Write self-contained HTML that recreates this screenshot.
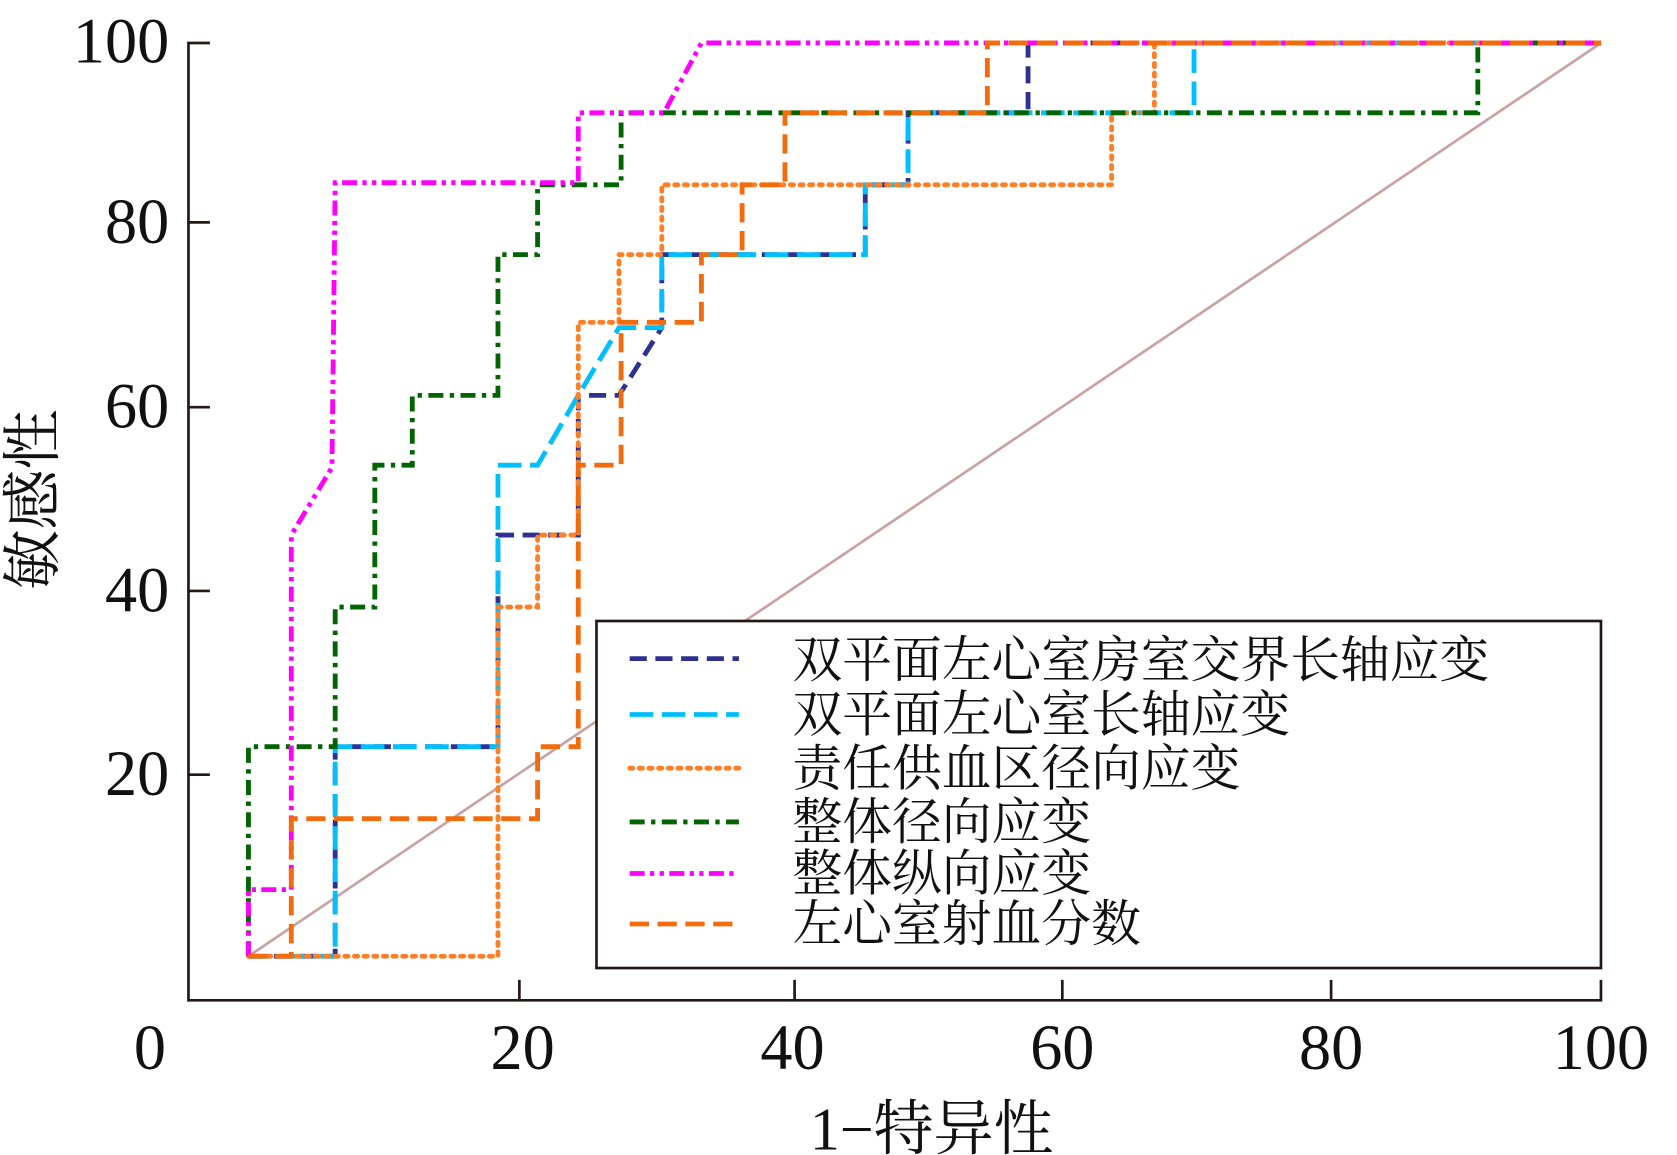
<!DOCTYPE html>
<html><head><meta charset="utf-8"><style>
html,body{margin:0;padding:0;background:#fff;}
svg{display:block;}
text{font-family:"Liberation Serif","Noto Serif CJK SC",serif;fill:#111;}
.num{font-family:"Liberation Serif",serif;}
</style></head><body>
<svg width="1677" height="1155" viewBox="0 0 1566 1075" preserveAspectRatio="none" xmlns="http://www.w3.org/2000/svg">
<g stroke="#231815" stroke-width="2.5" fill="none">
<polyline points="196,40 176,40 176,931 1495,931 1495,912"/>
<line x1="176" y1="207" x2="196" y2="207"/>
<line x1="176" y1="379" x2="196" y2="379"/>
<line x1="176" y1="550" x2="196" y2="550"/>
<line x1="176" y1="721" x2="196" y2="721"/>
<line x1="485" y1="931" x2="485" y2="912"/>
<line x1="742" y1="931" x2="742" y2="912"/>
<line x1="992" y1="931" x2="992" y2="912"/>
<line x1="1243" y1="931" x2="1243" y2="912"/>
</g>
<g font-size="60" text-anchor="end" class="num">
<text class="num" x="158" y="58">100</text>
<text class="num" x="158" y="226">80</text>
<text class="num" x="158" y="398">60</text>
<text class="num" x="158" y="569">40</text>
<text class="num" x="158" y="740">20</text>
</g>
<g font-size="60" text-anchor="middle">
<text class="num" x="140" y="995">0</text>
<text class="num" x="488" y="995">20</text>
<text class="num" x="740" y="995">40</text>
<text class="num" x="992" y="995">60</text>
<text class="num" x="1243" y="995">80</text>
<text class="num" x="1495" y="995">100</text>
</g>
<text x="870" y="1070" font-size="56" text-anchor="middle">1−特异性</text>
<text transform="translate(50,465) rotate(-90)" font-size="56" text-anchor="middle">敏感性</text>

<line x1="232" y1="890" x2="1495" y2="40" stroke="#c9a3a3" stroke-width="2.5"/>

<g fill="none" stroke-width="4.5">
<polyline stroke="#2e3192" stroke-dasharray="16,8" points="232,890 313,890 313,695 465,695 465,498 540,498 540,368 578,368 618,305 618,237 808,237 808,172 848,172 848,105 960,105 960,40 1495,40"/>
<polyline stroke="#00bfff" stroke-dasharray="22,8" points="232,890 313,890 313,695 465,695 465,433 502,433 540,368 578,305 618,305 618,237 808,237 808,172 848,172 848,105 1115,105 1115,40 1495,40"/>
<polyline stroke="#ff7f27" stroke-dasharray="3,6" stroke-linecap="round" points="232,890 465,890 465,565 502,565 502,498 540,498 540,300 578,300 578,237 618,237 618,172 1038,172 1038,105 1078,105 1078,40 1495,40"/>
<polyline stroke="#006400" stroke-dasharray="14,6,4,6" points="232,890 232,695 313,695 313,565 350,565 350,433 385,433 385,368 465,368 465,237 502,237 502,172 580,172 580,105 1380,105 1380,40 1495,40"/>
<polyline stroke="#ff00ff" stroke-dasharray="14,5,4,5,4,5" points="232,890 232,828 272,828 272,498 310,435 313,170 540,170 540,105 620,105 655,40 1495,40"/>
<polyline stroke="#f26c0d" stroke-dasharray="18,8" points="232,890 272,890 272,762 502,762 502,695 540,695 540,433 580,433 580,300 655,300 655,237 693,237 693,172 733,172 733,105 922,105 922,40 1495,40"/>
</g>

<rect x="557" y="578" width="938" height="323" fill="#fff" stroke="#231815" stroke-width="2.5"/>
<g stroke-width="4.5">
<line x1="588" y1="613" x2="690" y2="613" stroke="#2e3192" stroke-dasharray="16,8"/>
<line x1="588" y1="665" x2="690" y2="665" stroke="#00bfff" stroke-dasharray="22,8"/>
<line x1="588" y1="715" x2="690" y2="715" stroke="#ff7f27" stroke-dasharray="3,6" stroke-linecap="round"/>
<line x1="588" y1="765" x2="690" y2="765" stroke="#006400" stroke-dasharray="14,6,4,6"/>
<line x1="588" y1="813" x2="690" y2="813" stroke="#ff00ff" stroke-dasharray="14,5,4,5,4,5"/>
<line x1="588" y1="860" x2="690" y2="860" stroke="#f26c0d" stroke-dasharray="18,8"/>
</g>
<g font-size="46.5">
<text x="740" y="630">双平面左心室房室交界长轴应变</text>
<text x="740" y="681">双平面左心室长轴应变</text>
<text x="740" y="731">责任供血区径向应变</text>
<text x="740" y="781">整体径向应变</text>
<text x="740" y="829">整体纵向应变</text>
<text x="740" y="876">左心室射血分数</text>
</g>
</svg>
</body></html>
